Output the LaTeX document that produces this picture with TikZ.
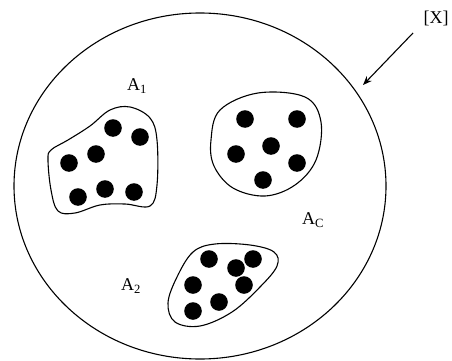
\documentclass[tikz,border=0pt]{standalone}
\usepackage{fontspec}
\setmainfont{Liberation Serif}
\usetikzlibrary{arrows.meta,positioning}

\begin{document}
\begin{tikzpicture}[
    x=1pt, y=-1pt,
    universe/.style={draw, line width=1.1pt},
    blob/.style={draw, line width=1.1pt, smooth cycle, tension=0.6},
    dot/.style={fill=black},
    setlabel/.style={inner sep=0pt, font=\fontsize{18}{21}\selectfont},
    arrow/.style={-{Stealth[length=9pt, width=7pt]}, line width=1.1pt}
]
\useasboundingbox (0,0) rectangle (452,361);

% Universe [X]
\draw[universe] (200,186) ellipse (186 and 173);

% Set A1
\draw[blob] plot coordinates {(48,160) (51,190) (58,211) (75,213) (100,205) (125,204) (150,206) (157,185) (157,140) (150,118) (130,107) (110,110) (90,126) (68,140) (51,150)};
\foreach \p in {(113,128),(140,137),(96,154),(69,163),(78,197),(105,189),(134,192)}
  \fill[dot] \p circle (8.8);

% Set AC
\draw[blob] plot coordinates {(211,140) (220,110) (258,93) (305,97) (321,122) (316,160) (295,185) (265,196) (233,188) (214,166)};
\foreach \p in {(245,119),(297,119),(271,146),(236,154),(297,163),(263,180)}
  \fill[dot] \p circle (8.8);

% Set A2
\draw[blob] plot coordinates {(193,252) (215,244) (250,245) (274,252) (277,266) (260,287) (232,312) (200,326) (175,322) (168,303) (177,277)};
\foreach \p in {(209,259),(236,268),(253,259),(193,285),(244,285),(219,302),(193,311)}
  \fill[dot] \p circle (8.8);

% Labels
\node[setlabel] (a1) at (137,86) {A\textsubscript{1}};
\node[setlabel] (ac) at (313,220) {A\textsubscript{C}};
\node[setlabel] (a2) at (131,286) {A\textsubscript{2}};
\node[setlabel] (xlab) at (436,18) {[X]};

% Arrow to universe
\coordinate (tail) at (413,33);
\coordinate (head) at (363,85);
\draw[arrow] (tail) -- (head);

\end{tikzpicture}
\end{document}
